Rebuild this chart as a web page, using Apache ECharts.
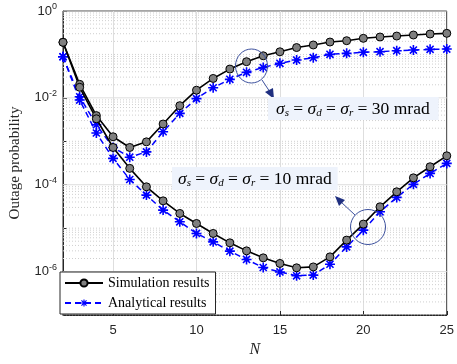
<!DOCTYPE html>
<html>
<head>
<meta charset="utf-8">
<script src="https://cdn.jsdelivr.net/npm/echarts@6/dist/echarts.min.js"></script>
<style>
  html, body { margin: 0; padding: 0; background: #fff }
  #chart { width: 457px; height: 364px }
</style>
</head>
<body>
<div id="chart"></div>
<script>
// N values
const nValues = [2, 3, 4, 5, 6, 7, 8, 9, 10, 11, 12, 13, 14, 15, 16, 17, 18, 19, 20, 21, 22, 23, 24, 25]

// sigma = 30 mrad
const sim30 = [0.19, 0.0205, 0.0039, 0.00127, 0.00072, 0.00097, 0.0025, 0.0066, 0.015, 0.028, 0.046, 0.068,
  0.093, 0.115, 0.144, 0.165, 0.193, 0.207, 0.235, 0.252, 0.265, 0.28, 0.295, 0.306]
const ana30 = [0.0885, 0.0106, 0.0024, 0.00072, 0.00043, 0.00057, 0.00166, 0.0044, 0.0096, 0.0171, 0.0267, 0.0387,
  0.05, 0.0624, 0.0743, 0.084, 0.1005, 0.106, 0.112, 0.1155, 0.122, 0.126, 0.131, 0.133]

// sigma = 10 mrad
const sim10 = [0.19, 0.0175, 0.0033, 0.00072, 0.000238, 8.95e-5, 4.25e-5, 2.18e-5, 1.28e-5, 7.55e-6, 4.59e-6, 3.0e-6,
  2.07e-6, 1.54e-6, 1.22e-6, 1.28e-6, 2.18e-6, 5.3e-6, 1.24e-5, 3.1e-5, 6.87e-5, 1.44e-4, 2.59e-4, 4.63e-4]
const ana10 = [0.0885, 0.0089, 0.00155, 0.000404, 0.000132, 5.76e-5, 2.6e-5, 1.4e-5, 7.55e-6, 4.83e-6, 2.95e-6, 1.9e-6,
  1.24e-6, 9.8e-7, 8.0e-7, 8.3e-7, 1.48e-6, 3.7e-6, 9e-6, 2.38e-5, 5.1e-5, 1.02e-4, 1.82e-4, 3.1e-4]

// log-axis grid: labelled decades get solid lines, the rest dotted
const majorDecades = [1, 1e-2, 1e-4, 1e-6]
const minorGrid = []
for (let e = -7; e < 0; e++) {
  for (let m = 1; m <= 9; m++) {
    const v = Number((m * Math.pow(10, e)).toPrecision(3))
    if (!(m === 1 && majorDecades.includes(v))) minorGrid.push(v)
  }
}
const xRange = [2, 25]

const serif = '"Liberation Serif", "DejaVu Serif", serif'
const sans = '"Liberation Sans", Arial, sans-serif'
const asterisk = 'path://M0 8.4L20 8.4L20 11.6L0 11.6Z M8.4 0L11.6 0L11.6 20L8.4 20Z ' +
  'M4.06 1.8L18.2 15.94L15.94 18.2L1.8 4.06Z M18.2 4.06L4.06 18.2L1.8 15.94L15.94 1.8Z'

const pairs = arr => nValues.map((n, i) => [n, arr[i]])

// horizontal grid lines as broken line series (one segment per level)
function gridLines(levels) {
  const out = []
  levels.forEach(v => { out.push([xRange[0], v], [xRange[1], v], ['-', '-']) })
  return out
}
function gridSeries(levels, style) {
  return {
    type: 'line', data: gridLines(levels), silent: true, z: 1,
    symbol: 'none', connectNulls: false, lineStyle: style,
  }
}

function simSeries(arr) {
  return {
    name: 'Simulation results', type: 'line', data: pairs(arr),
    symbol: 'circle', symbolSize: 8, z: 4,
    lineStyle: { color: '#000', width: 1.6 },
    itemStyle: { color: '#7f7f7f', borderColor: '#000', borderWidth: 1 },
  }
}
function anaSeries(arr) {
  return {
    name: 'Analytical results', type: 'line', data: pairs(arr),
    symbol: asterisk, symbolSize: 10, z: 3,
    lineStyle: { color: '#0000ff', width: 1.5, type: [6, 4] },
    itemStyle: { color: '#0000ff' },
  }
}

const blue = '#1f1fdc'
const sigmaRich = {
  g: { fontFamily: serif, fontStyle: 'italic', fontSize: 17.5, color: blue },
  s: { fontFamily: serif, fontStyle: 'italic', fontSize: 11, color: blue, padding: [9, 0, 0, 0] },
  t: { fontFamily: serif, fontSize: 17.5, color: blue },
}
function sigmaText(v) {
  return '{g|σ}{s|s}{t| = }{g|σ}{s|d}{t| = }{g|σ}{s|r}{t| = ' + v + ' mrad}'
}

const chart = echarts.init(document.getElementById('chart'))
chart.setOption({
  animation: false,
  grid: { left: 59, right: 8, top: 11, bottom: 49, show: true, borderColor: '#262626', borderWidth: 1 },
  legend: {
    orient: 'vertical', left: 60, top: 272, itemWidth: 38, itemHeight: 9, itemGap: 6,
    padding: [4, 6, 4, 4],
    backgroundColor: '#fff', borderColor: '#262626', borderWidth: 1, borderRadius: 0,
    textStyle: { fontFamily: serif, fontSize: 14, color: '#000' },
    data: ['Simulation results', 'Analytical results'],
  },
  xAxis: {
    type: 'value', min: xRange[0], max: xRange[1],
    name: 'N', nameLocation: 'middle', nameGap: 24,
    nameTextStyle: { fontFamily: serif, fontStyle: 'italic', fontSize: 16, color: '#262626' },
    axisLine: { lineStyle: { color: '#262626' } },
    axisTick: { inside: true, length: 4, lineStyle: { color: '#262626' } },
    axisLabel: { showMinLabel: false, fontFamily: sans, fontSize: 13, color: '#262626', margin: 9 },
    splitLine: { lineStyle: { color: '#dedede' } },
  },
  yAxis: {
    type: 'log', logBase: 10, min: 1e-7, max: 1,
    name: 'Outage probability', nameLocation: 'middle', nameGap: 40,
    nameTextStyle: { fontFamily: serif, fontSize: 15, color: '#262626' },
    axisLine: { lineStyle: { color: '#262626' } },
    axisTick: { inside: true, length: 4, lineStyle: { color: '#262626' } },
    axisLabel: {
      fontFamily: sans, fontSize: 13, color: '#262626', margin: 6,
      formatter: v => {
        const e = Math.round(Math.log10(v))
        if (e % 2 !== 0) return ''
        return '{b|10}{sup|' + (e === 0 ? '0' : '-' + (-e)) + '}'
      },
      rich: {
        b: { fontFamily: sans, fontSize: 13, color: '#262626' },
        sup: { fontFamily: sans, fontSize: 9, color: '#262626', padding: [0, 0, 8, 0] },
      },
    },
    splitLine: { show: false },
  },
  series: [
    gridSeries(minorGrid, { color: '#cfcfcf', width: 1, type: [1, 2] }),
    gridSeries(majorDecades, { color: '#dedede', width: 1 }),
    simSeries(sim30), anaSeries(ana30),
    simSeries(sim10), anaSeries(ana10),
  ],
  graphic: [
    // 30 mrad callout
    { type: 'ellipse', shape: { cx: 251.5, cy: 66, rx: 16, ry: 17 }, style: { fill: 'none', stroke: '#3b4f9c', lineWidth: 1 }, z: 10 },
    { type: 'line', shape: { x1: 262, y1: 80, x2: 270, y2: 92 }, style: { stroke: '#3b4f9c', lineWidth: 1 }, z: 10 },
    { type: 'polygon', shape: { points: [[274, 99], [265, 92], [273, 88]] }, style: { fill: '#1f2f80' }, z: 10 },
    {
      type: 'text', left: 268, top: 97, z: 10,
      style: { text: sigmaText(30), rich: sigmaRich, backgroundColor: '#eef3fc', padding: [2, 9, 1, 8] },
    },
    // 10 mrad callout
    { type: 'ellipse', shape: { cx: 368, cy: 227, rx: 17.5, ry: 17.5 }, style: { fill: 'none', stroke: '#3b4f9c', lineWidth: 1 }, z: 10 },
    { type: 'line', shape: { x1: 355, y1: 215, x2: 341, y2: 202 }, style: { stroke: '#3b4f9c', lineWidth: 1 }, z: 10 },
    { type: 'polygon', shape: { points: [[335, 196], [345, 200], [339, 206]] }, style: { fill: '#1f2f80' }, z: 10 },
    {
      type: 'text', left: 172, top: 167, z: 10,
      style: { text: sigmaText(10), rich: sigmaRich, backgroundColor: '#eef3fc', padding: [2, 6, 1, 6] },
    },
  ],
})
</script>
</body>
</html>
